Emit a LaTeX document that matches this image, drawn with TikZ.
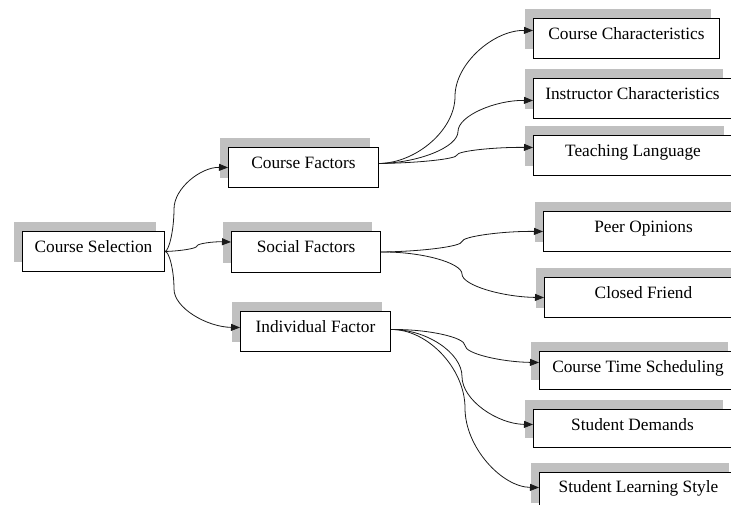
\documentclass[tikz,border=0pt]{standalone}
\usepackage{fontspec}
\setmainfont{Liberation Serif}
\usetikzlibrary{arrows.meta,shadows}
\definecolor{shadowgray}{HTML}{C0C0C0}
\definecolor{linecol}{HTML}{1A1A1A}
\begin{document}
\begin{tikzpicture}[x=1pt,y=-1pt,
  box/.style={draw=black, line width=1pt, fill=white, anchor=north west,
    inner sep=0pt, text height=21pt, text depth=19pt,
    font=\fontsize{17.3}{20}\selectfont,
    general shadow={fill=shadowgray, shadow xshift=-9pt, shadow yshift=10pt}},
  conn/.style={draw=linecol, line width=0.8pt, -{Triangle[length=9pt,width=7pt]}}]
\clip (0,0) rectangle (731,504);
\useasboundingbox (0,0) rectangle (731,504);

\node[box, minimum width=142pt] (cs) at (22,231) {Course Selection};
\node[box, minimum width=150pt] (cf) at (228,147) {Course Factors};
\node[box, minimum width=149pt, text depth=20pt] (sf) at (231,231) {Social Factors};
\node[box, minimum width=150pt] (ind) at (240,311) {Individual Factor};
\node[box, minimum width=186pt] (cc) at (533,18) {Course Characteristics};
\node[box, minimum width=198pt] (ic) at (533,78) {Instructor Characteristics};
\node[box, minimum width=199pt] (tl) at (533,135) {Teaching Language};
\node[box, minimum width=200pt] (po) at (543,211) {Peer Opinions};
\node[box, minimum width=198pt] (cfr) at (544,277) {Closed Friend};
\node[box, minimum width=197pt, text depth=17pt] (cts) at (539,351) {Course Time Scheduling};
\node[box, minimum width=198pt, text depth=17pt] (sd) at (533,409) {Student Demands};
\node[box, minimum width=198pt, text height=20pt, text depth=20pt] (sls) at (539,472) {Student Learning Style};

% Course Selection
\draw[conn] (cs.east) .. controls (169,251) and (174,230) .. (174,209)
  .. controls (174,188) and (201,167) .. (cf.west);
\draw[conn] (cs.east) .. controls (180.5,251) and (197,248.5) .. (197,246)
  .. controls (197,243.5) and (214,241.5) .. ([yshift=10pt]sf.west);
\draw[conn] (cs.east) .. controls (169,251) and (174,270) .. (174,289)
  .. controls (174,308) and (207,327) .. ([yshift=4pt]ind.west);

% Course Factors
\draw[conn] ([yshift=4pt]cf.east) .. controls (416.5,163) and (455,129.75) .. (455,96.5)
  .. controls (455,63.25) and (494,30) .. ([yshift=8pt]cc.west);
\draw[conn] ([yshift=4pt]cf.east) .. controls (418,163) and (458,147.25) .. (458,131.5)
  .. controls (458,115.75) and (495.5,100) .. ([yshift=-2pt]ic.west);
\draw[conn] ([yshift=4pt]cf.east) .. controls (417.5,163) and (457,159) .. (457,155)
  .. controls (457,151) and (495,147) .. ([yshift=8pt]tl.west);

% Social Factors
\draw[conn] (sf.east) .. controls (421,251.5) and (462,246.5) .. (462,241.5)
  .. controls (462,236.5) and (502.5,231) .. (po.west);
\draw[conn] (sf.east) .. controls (421,251.5) and (462,262.75) .. (462,274)
  .. controls (462,285.5) and (503,297) .. (cfr.west);

% Individual Factor
\draw[conn] ([yshift=2pt]ind.east) .. controls (427.5,329) and (465,337.25) .. (465,345.5)
  .. controls (465,353.75) and (502,362) .. ([yshift=8pt]cts.west);
\draw[conn] ([yshift=2pt]ind.east) .. controls (426,329) and (462,352.75) .. (462,376.5)
  .. controls (462,400.25) and (497.5,424) .. ([yshift=4pt]sd.west);
\draw[conn] ([yshift=2pt]ind.east) .. controls (427.5,329) and (465,368.5) .. (465,408)
  .. controls (465,447.5) and (502,487) .. ([yshift=5pt]sls.west);
\end{tikzpicture}
\end{document}
